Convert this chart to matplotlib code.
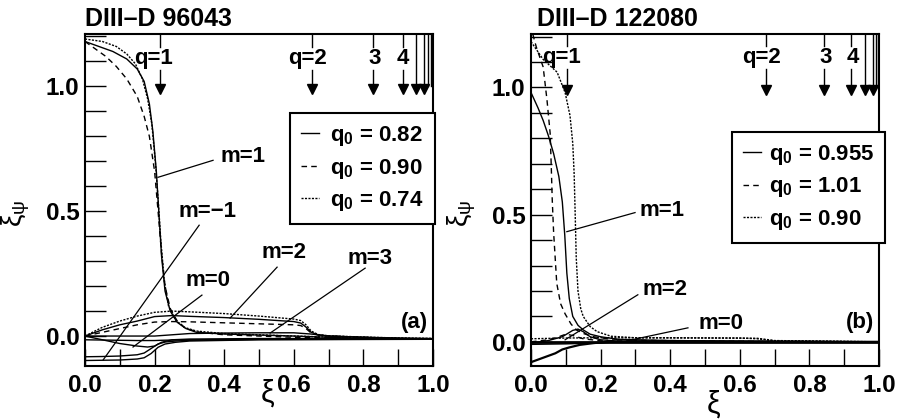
import numpy as np
import matplotlib
matplotlib.use("Agg")
from matplotlib import pyplot as plt

# fuentes
plt.rcParams['font.family'] = ['Liberation Sans', 'DejaVu Sans']
plt.rcParams['font.weight'] = 'bold'
plt.rcParams['mathtext.fontset'] = 'custom'
plt.rcParams['mathtext.rm'] = 'Liberation Sans:bold'
plt.rcParams['mathtext.it'] = 'Liberation Sans:bold'
plt.rcParams['mathtext.bf'] = 'Liberation Sans:bold'
TICKFONT = ['Liberation Sans Narrow', 'Liberation Sans']

# ---------------- panel (a): DIII-D 96043 ----------------
a_m1_x_solid = [0, 0.04, 0.08, 0.12, 0.15, 0.17, 0.185, 0.195, 0.205, 0.212, 0.22, 0.23, 0.245, 0.265, 0.29, 0.32, 0.4, 0.6, 0.8, 1.0]
a_m1_y_solid = [1.18, 1.16, 1.14, 1.11, 1.07, 1.02, 0.93, 0.82, 0.66, 0.50, 0.32, 0.18, 0.10, 0.055, 0.03, 0.015, 0.008, 0.0, -0.01, -0.012]
a_m1_x_dash = [0, 0.03, 0.06, 0.09, 0.12, 0.15, 0.17, 0.185, 0.2, 0.21, 0.22, 0.23, 0.245, 0.265, 0.29, 0.33, 0.4, 0.6, 0.8, 1.0]
a_m1_y_dash = [1.18, 1.15, 1.12, 1.08, 1.03, 0.96, 0.88, 0.80, 0.66, 0.50, 0.33, 0.20, 0.11, 0.06, 0.03, 0.015, 0.005, -0.005, -0.01, -0.012]
a_m1_x_dot = [0, 0.05, 0.09, 0.12, 0.145, 0.165, 0.18, 0.192, 0.202, 0.21, 0.218, 0.228, 0.24, 0.26, 0.285, 0.32, 0.4, 0.6, 0.8, 1.0]
a_m1_y_dot = [1.19, 1.18, 1.16, 1.13, 1.09, 1.03, 0.95, 0.85, 0.70, 0.55, 0.38, 0.22, 0.12, 0.065, 0.035, 0.02, 0.01, 0.0, -0.008, -0.01]

a_m2_x = [0, 0.05, 0.1, 0.15, 0.2, 0.25, 0.3, 0.4, 0.5, 0.6, 0.62, 0.635, 0.65, 0.67, 0.7, 0.8, 0.9, 1.0]
a_m2_y_solid = [0, 0.025, 0.045, 0.06, 0.078, 0.082, 0.079, 0.074, 0.067, 0.058, 0.052, 0.036, 0.015, 0.005, 0.0, -0.005, -0.01, -0.012]
a_m2_y_dash = [0, 0.015, 0.03, 0.045, 0.056, 0.058, 0.057, 0.053, 0.049, 0.045, 0.042, 0.03, 0.012, 0.004, 0.0, -0.005, -0.01, -0.012]
a_m2_y_dot = [0, 0.035, 0.06, 0.08, 0.095, 0.1, 0.097, 0.09, 0.08, 0.068, 0.062, 0.045, 0.02, 0.006, 0.001, -0.004, -0.008, -0.01]

a_m3_x = [0, 0.2, 0.25, 0.3, 0.4, 0.5, 0.6, 0.65, 0.7, 0.8, 1.0]
a_m3_y = [0, 0.0, 0.005, 0.01, 0.012, 0.013, 0.013, 0.008, 0.0, -0.005, -0.01]

a_m0_x = [0, 0.05, 0.1, 0.15, 0.18, 0.2, 0.22, 0.25, 0.3, 0.5, 0.7, 1.0]
a_m0_y1 = [0, -0.015, -0.03, -0.04, -0.044, -0.04, -0.025, -0.015, -0.012, -0.01, -0.01, -0.012]
a_m0_y2 = [-0.015, -0.016, -0.017, -0.018, -0.018, -0.018, -0.017, -0.016, -0.015, -0.013, -0.012, -0.012]

a_mm1_x = [0, 0.05, 0.1, 0.15, 0.17, 0.19, 0.21, 0.23, 0.26, 0.3, 0.5, 1.0]
a_mm1_y1 = [-0.083, -0.082, -0.08, -0.075, -0.068, -0.05, -0.032, -0.024, -0.02, -0.017, -0.014, -0.012]
a_mm1_y2 = [-0.098, -0.097, -0.096, -0.092, -0.087, -0.07, -0.045, -0.032, -0.025, -0.02, -0.015, -0.013]

a_q_pos = [0.215, 0.652, 0.828, 0.913, 0.951, 0.974]
a_q_lab = ['q=1', 'q=2', '3', '4', '', '']
a_q_lab_x = [0.198, 0.639, 0.831, 0.914, None, None]
a_q_extra = [0.985, 0.993]
a_legend = ['q$_0$ = 0.82', 'q$_0$ = 0.90', 'q$_0$ = 0.74']

# ---------------- panel (b): DIII-D 122080 ----------------
b_m1_x_solid = [0, 0.02, 0.035, 0.05, 0.065, 0.08, 0.09, 0.097, 0.103, 0.11, 0.12, 0.135, 0.15, 0.17, 0.2, 0.25, 0.4, 0.7, 1.0]
b_m1_y_solid = [0.98, 0.92, 0.87, 0.81, 0.74, 0.65, 0.55, 0.42, 0.27, 0.17, 0.10, 0.065, 0.047, 0.03, 0.02, 0.01, 0.005, 0.002, 0.0]
b_m1_x_dash = [0.005, 0.015, 0.025, 0.035, 0.046, 0.055, 0.058, 0.061, 0.065, 0.074, 0.085, 0.098, 0.115, 0.13, 0.15, 0.18, 0.22, 0.3, 0.6, 1.0]
b_m1_y_dash = [1.21, 1.16, 1.12, 1.08, 0.95, 0.82, 0.70, 0.56, 0.43, 0.23, 0.15, 0.11, 0.07, 0.047, 0.033, 0.02, 0.012, 0.006, 0.003, 0.0]
b_m1_x_dot = [0, 0.035, 0.075, 0.098, 0.112, 0.12, 0.124, 0.127, 0.13, 0.135, 0.143, 0.15, 0.17, 0.19, 0.23, 0.3, 0.5, 0.65, 0.7, 1.0]
b_m1_y_dot = [1.18, 1.11, 1.06, 0.98, 0.89, 0.78, 0.66, 0.50, 0.33, 0.20, 0.13, 0.10, 0.06, 0.04, 0.022, 0.016, 0.015, 0.014, 0.005, 0.0]

b_m2_x_solid = [0, 0.05, 0.09, 0.12, 0.135, 0.15, 0.17, 0.2, 0.25, 1.0]
b_m2_y_solid = [-0.005, 0.005, 0.02, 0.045, 0.05, 0.04, 0.02, 0.008, 0.003, 0.0]
b_m2_x_dash = [0, 0.05, 0.08, 0.1, 0.12, 0.15, 0.2, 1.0]
b_m2_y_dash = [0, 0.008, 0.02, 0.03, 0.025, 0.012, 0.004, 0.0]
b_dot_x = [0, 0.1, 0.2, 0.4, 0.6, 0.65, 0.7, 1.0]
b_dot_y = [0.012, 0.015, 0.016, 0.016, 0.015, 0.012, 0.004, 0.0]

b_m0_x = [0, 0.02, 0.05, 0.07, 0.09, 0.11, 0.14, 0.18, 0.22, 0.3, 1.0]
b_m0_y = [-0.08, -0.07, -0.055, -0.045, -0.03, -0.022, -0.012, -0.005, 0.0, 0.0, 0.0]
b_base_x = [0, 0.1, 0.2, 0.25, 1.0]
b_base_y1 = [-0.01, -0.008, -0.004, 0.0, 0.0]
b_base_y2 = [0.0, 0.0, 0.0, 0.0, 0.0]

b_q_pos = [0.103, 0.675, 0.842, 0.92, 0.96, 0.983]
b_q_lab = ['q=1', 'q=2', '3', '4', '', '']
b_q_lab_x = [0.087, 0.663, 0.847, 0.925, None, None]
b_q_extra = [0.99, 0.997]
b_legend = ['q$_0$ = 0.955', 'q$_0$ = 1.01', 'q$_0$ = 0.90']

DASH = (0, (4, 3))
DOT = (0, (1.5, 1))

fig = plt.figure(figsize=(8.98, 4.19), dpi=100)
axA = fig.add_axes([85/898, 1-366/419, 348/898, 332/419])
axB = fig.add_axes([531/898, 1-366/419, 348/898, 332/419])


def estilo(ax, ylim):
    ax.set_xlim(0, 1)
    ax.set_ylim(*ylim)
    ax.set_xticks(np.arange(0, 1.01, 0.2))
    ax.set_xticks(np.arange(0, 1.01, 0.1), minor=True)
    ax.set_yticks([0, 0.5, 1.0])
    ax.set_yticks(np.arange(0, 1.21, 0.1), minor=True)
    ax.set_xticklabels(['0.0', '0.2', '0.4', '0.6', '0.8', '1.0'])
    ax.set_yticklabels(['0.0', '0.5', '1.0'])
    ax.tick_params(axis='x', which='both', direction='in', length=12, width=1, pad=6, top=False)
    ax.tick_params(axis='y', which='both', direction='in', length=15, width=1, pad=4, right=False)
    for lab in ax.get_xticklabels() + ax.get_yticklabels():
        lab.set_family(TICKFONT)
        lab.set_fontsize(17.5)
        lab.set_fontweight('bold')
    for s in ax.spines.values():
        s.set_linewidth(1.5)


def flechas(ax, pos, labs, labx, extra, y_top, y_tip, y_txt, gap):
    for x, lab, lx in zip(pos, labs, labx):
        if lab:
            ax.plot([x, x], [y_top, y_txt + gap], color='k', lw=1)
            ax.plot([x, x], [y_txt - gap, y_tip], color='k', lw=1)
            ax.text(lx, y_txt, lab, ha='center', va='center', fontsize=16, fontweight='bold')
        else:
            ax.plot([x, x], [y_top, y_tip], color='k', lw=1)
        ax.plot([x], [y_tip], marker='v', color='k', ms=7, clip_on=False)
    for x in extra:
        ax.plot([x, x], [y_top, y_tip + 0.01], color='k', lw=1)


def etiqueta(ax, texto, txy, p0, p1):
    ax.text(txy[0], txy[1], texto, ha='center', va='center', fontsize=16, fontweight='bold')
    ax.plot([p0[0], p1[0]], [p0[1], p1[1]], color='k', lw=0.9)


def leyenda(ax, handles, labels, anchor, pad):
    leg = ax.legend(handles, labels, loc='upper left', bbox_to_anchor=anchor,
                    fontsize=16, handlelength=0.8, handletextpad=pad, labelspacing=0.38,
                    borderpad=0.5, fancybox=False, framealpha=1, edgecolor='k', borderaxespad=0)
    leg.get_frame().set_linewidth(1.5)
    return leg


# ---- panel a
kw = dict(color='k', lw=1.0)
l1, = axA.plot(a_m1_x_solid, a_m1_y_solid, ls='-', **kw)
l2, = axA.plot(a_m1_x_dash, a_m1_y_dash, ls=DASH, **kw)
l3, = axA.plot(a_m1_x_dot, a_m1_y_dot, ls=DOT, **kw)
axA.plot(a_m2_x, a_m2_y_solid, ls='-', **kw)
axA.plot(a_m2_x, a_m2_y_dash, ls=DASH, **kw)
axA.plot(a_m2_x, a_m2_y_dot, ls=DOT, **kw)
axA.plot(a_m3_x, a_m3_y, ls='-', **kw)
axA.plot(a_m0_x, a_m0_y1, ls='-', **kw)
axA.plot(a_m0_x, a_m0_y2, ls='-', **kw)
axA.plot(a_mm1_x, a_mm1_y1, ls='-', **kw)
axA.plot(a_mm1_x, a_mm1_y2, ls='-', **kw)
estilo(axA, (-0.12, 1.21))
flechas(axA, a_q_pos, a_q_lab, a_q_lab_x, a_q_extra, 1.21, 0.99, 1.112, 0.045)

etiqueta(axA, 'm=1', (0.454, 0.72), (0.368, 0.704), (0.21, 0.636))
etiqueta(axA, 'm=\u22121', (0.353, 0.50), (0.328, 0.444), (0.052, -0.096))
etiqueta(axA, 'm=0', (0.353, 0.224), (0.336, 0.164), (0.138, -0.044))
etiqueta(axA, 'm=2', (0.572, 0.336), (0.552, 0.276), (0.417, 0.072))
etiqueta(axA, 'm=3', (0.819, 0.312), (0.805, 0.272), (0.532, 0.012))
axA.text(0.948, 0.056, '(a)', ha='center', va='center', fontsize=16, fontweight='bold')
leyenda(axA, [l1, l2, l3], a_legend, (0.589, 0.762), 0.5)

# ---- panel b
m1, = axB.plot(b_m1_x_solid, b_m1_y_solid, ls='-', **kw)
m2, = axB.plot(b_m1_x_dash, b_m1_y_dash, ls=DASH, **kw)
m3, = axB.plot(b_m1_x_dot, b_m1_y_dot, ls=DOT, **kw)
axB.plot(b_m2_x_solid, b_m2_y_solid, ls='-', **kw)
axB.plot(b_m2_x_dash, b_m2_y_dash, ls=DASH, **kw)
axB.plot(b_dot_x, b_dot_y, ls=DOT, **kw)
axB.plot(b_m0_x, b_m0_y, ls='-', color='k', lw=1.6)
axB.plot(b_base_x, b_base_y1, ls='-', **kw)
axB.plot(b_base_x, b_base_y2, ls='-', color='k', lw=2.0)
estilo(axB, (-0.095, 1.21))
flechas(axB, b_q_pos, b_q_lab, b_q_lab_x, b_q_extra, 1.21, 0.99, 1.118, 0.045)

etiqueta(axB, 'm=1', (0.376, 0.516), (0.299, 0.508), (0.103, 0.433))
etiqueta(axB, 'm=2', (0.385, 0.205), (0.307, 0.185), (0.098, 0.008))
etiqueta(axB, 'm=0', (0.546, 0.071), (0.451, 0.055), (0.276, 0.004))
axB.text(0.945, 0.075, '(b)', ha='center', va='center', fontsize=16, fontweight='bold')
leyenda(axB, [m1, m2, m3], b_legend, (0.578, 0.705), 0.35)

# titulos y ejes
fig.text(85/898, 1-26/419, 'DIII\u2013D 96043', ha='left', va='baseline', fontsize=18,
         fontweight='bold', family=TICKFONT)
fig.text(537/898, 1-26/419, 'DIII\u2013D 122080', ha='left', va='baseline', fontsize=18,
         fontweight='bold', family=TICKFONT)
for xp in (16, 462):
    fig.text(xp/898, 1-213/419, r'$\mathregular{\xi_\psi}$', rotation=90, ha='center', va='center',
             fontsize=20, fontweight='normal', math_fontfamily='stixsans')
fig.text(268/898, 1-393/419, r'$\mathregular{\xi}$', ha='center', va='center', fontsize=22,
         fontweight='normal', math_fontfamily='stixsans')
fig.text(713/898, 1-404/419, r'$\mathregular{\xi}$', ha='center', va='center', fontsize=22,
         fontweight='normal', math_fontfamily='stixsans')

fig.savefig('out.png', dpi=100)
